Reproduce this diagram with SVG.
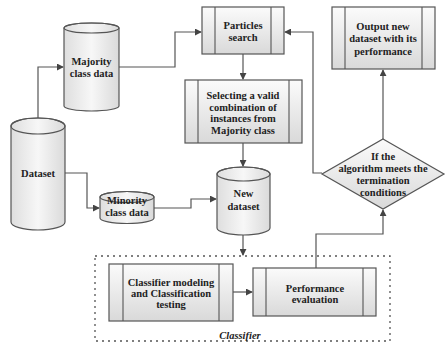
<svg xmlns="http://www.w3.org/2000/svg" width="446" height="344" viewBox="0 0 446 344">
<defs>
<linearGradient id="g" x1="0" y1="0" x2="0" y2="1"><stop offset="0" stop-color="#fbfbfb"/><stop offset="1" stop-color="#d9d9d9"/></linearGradient>
<linearGradient id="gc" x1="0" y1="0" x2="1" y2="0"><stop offset="0" stop-color="#dedede"/><stop offset="0.5" stop-color="#f7f7f7"/><stop offset="1" stop-color="#dadada"/></linearGradient>
<marker id="a" viewBox="0 0 8 8" refX="7" refY="4" markerWidth="7" markerHeight="7" markerUnits="userSpaceOnUse" orient="auto"><path d="M0,0 L8,4 L0,8 z" fill="#444"/></marker>
</defs>
<style>
.b{fill:url(#g);stroke:#555;stroke-width:1.2}
.c{fill:url(#gc);stroke:#555;stroke-width:1.2}
.l{fill:none;stroke:#555;stroke-width:1.1}
.k{fill:none;stroke:#555;stroke-width:1.2;marker-end:url(#a)}
text{font-family:"Liberation Serif",serif;font-size:10.5px;font-weight:bold;fill:#222;text-anchor:middle}
</style>
<g id="connectors">
<path class="k" d="M38,118 V67 H63"/>
<path class="k" d="M119,67 H175 V32 H201"/>
<path class="k" d="M243,54 V79"/>
<path class="k" d="M243,143 V166"/>
<path class="k" d="M65,173 H87 V208 H99"/>
<path class="k" d="M154,208 H191 V199 H216"/>
<path class="k" d="M243,235 V255"/>
<path class="k" d="M233,292 H252"/>
<path class="k" d="M316,268 V234 H383 V210"/>
<path class="k" d="M322,173 H313 V32 H285"/>
<path class="k" d="M383,139 V70"/>
</g>
<g id="majority">
<path class="c" d="M64,28 V106 A27.5,5 0 0 0 119,106 V28 A27.5,5 0 0 0 64,28 z"/>
<ellipse cx="91.5" cy="28" rx="27.5" ry="5" fill="none" stroke="#555" stroke-width="1.2"/>
<text x="91.5" y="65">Majority</text><text x="91.5" y="77">class data</text>
</g>
<g id="dataset">
<path class="c" d="M11,126 V222 A27,8 0 0 0 65,222 V126 A27,8 0 0 0 11,126 z"/>
<ellipse cx="38" cy="126" rx="27" ry="8" fill="none" stroke="#555" stroke-width="1.2"/>
<text x="38" y="177">Dataset</text>
</g>
<g id="minority">
<path class="c" d="M100,197 V218 A27,5.5 0 0 0 154,218 V197 A27,5.5 0 0 0 100,197 z"/>
<ellipse cx="127" cy="197" rx="27" ry="5.5" fill="none" stroke="#555" stroke-width="1.2"/>
<text x="127" y="204">Minority</text><text x="127" y="216">class data</text>
</g>
<g id="newdataset">
<path class="c" d="M217,174 V228 A26.5,7 0 0 0 270,228 V174 A26.5,7 0 0 0 217,174 z"/>
<ellipse cx="243.5" cy="174" rx="26.5" ry="7" fill="none" stroke="#555" stroke-width="1.2"/>
<text x="243.5" y="197">New</text><text x="243.5" y="210">dataset</text>
</g>
<g id="particles">
<rect class="b" x="202" y="7" width="82" height="47"/>
<path class="l" d="M215,7 V54 M271,7 V54"/>
<text x="243" y="29">Particles</text><text x="243" y="41">search</text>
</g>
<g id="selecting">
<rect class="b" x="185" y="80" width="117" height="63"/>
<path class="l" d="M198,80 V143 M289,80 V143"/>
<text x="243" y="99">Selecting a valid</text><text x="243" y="111">combination of</text><text x="243" y="122">instances from</text><text x="243" y="134">Majority class</text>
</g>
<g id="output">
<rect class="b" x="332" y="7" width="103" height="62"/>
<path class="l" d="M345,7 V69 M422,7 V69"/>
<text x="383" y="30">Output new</text><text x="383" y="42">dataset with its</text><text x="383" y="55">performance</text>
</g>
<g id="decision">
<path class="b" d="M383,139 L444,174 L383,209 L322,174 z"/>
<text x="383" y="160">If the</text><text x="383" y="172">algorithm meets the</text><text x="383" y="184">termination</text><text x="383" y="196">conditions</text>
</g>
<g id="classifier">
<rect x="95" y="256" width="295" height="85" fill="none" stroke="#555" stroke-width="1.3" stroke-dasharray="2,4"/>
<text x="240" y="339" font-style="italic">Classifier</text>
</g>
<g id="modeling">
<rect class="b" x="109" y="264" width="124" height="57"/>
<path class="l" d="M123,264 V321 M219,264 V321"/>
<text x="171" y="286">Classifier modeling</text><text x="171" y="297">and Classification</text><text x="171" y="308">testing</text>
</g>
<g id="performance">
<rect class="b" x="253" y="268" width="123" height="48"/>
<path class="l" d="M266,268 V316 M363,268 V316"/>
<text x="315" y="292">Performance</text><text x="315" y="303">evaluation</text>
</g>
</svg>
